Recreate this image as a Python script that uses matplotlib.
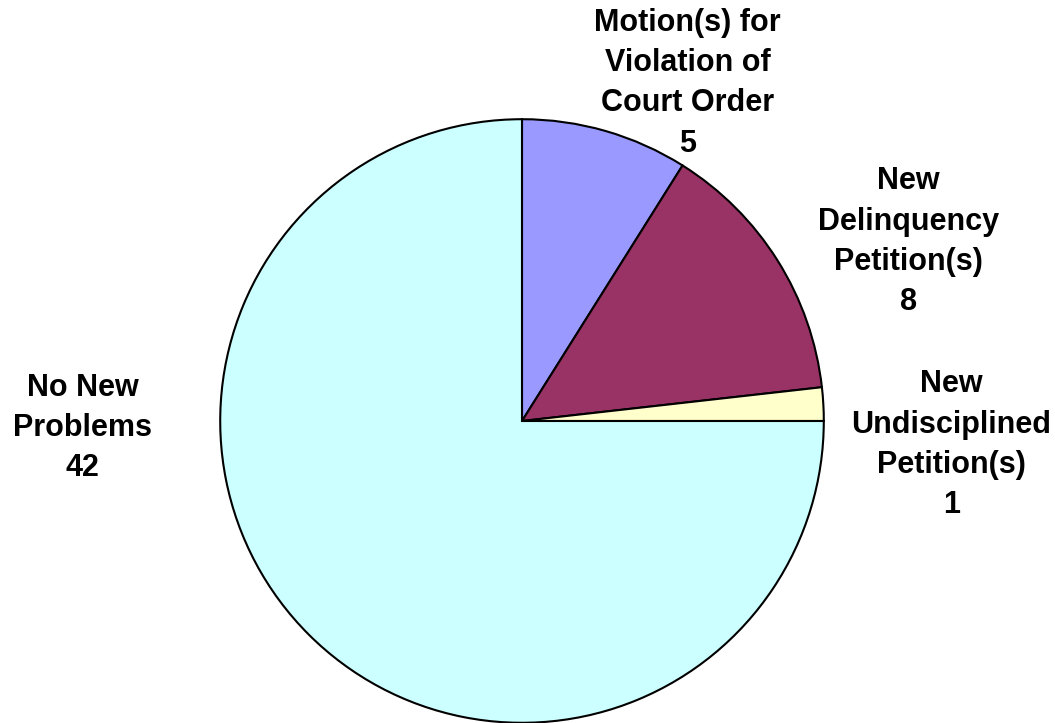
import matplotlib.pyplot as plt

# outcome categories, clockwise from 12 o'clock
labels = ["Motion(s) for\nViolation of\nCourt Order", "New\nDelinquency\nPetition(s)",
          "New\nUndisciplined\nPetition(s)", "No New\nProblems"]
counts = [5, 8, 1, 42]
colors = ["#9999FF", "#993366", "#FFFFCC", "#CCFFFF"]
# where each label sits, in units of the pie radius
label_pos = [(0.548, 1.119), (1.281, 0.594), (1.422, -0.079), (-1.455, -0.023)]

plt.rcParams['font.family'] = ['Liberation Sans', 'DejaVu Sans']

fig = plt.figure(figsize=(10.55, 7.23), dpi=100)
cx, cy, r = 522, 723 - 421, 303
ax = fig.add_axes([(cx - r) / 1055, (cy - r) / 723, 2 * r / 1055, 2 * r / 723])

ax.pie(counts, colors=colors, startangle=90, counterclock=False, radius=1,
       wedgeprops=dict(edgecolor="black", linewidth=1.5))
ax.set_xlim(-1.004, 1.004)
ax.set_ylim(-1.004, 1.004)
ax.set_aspect("equal")
ax.axis("off")

for lab, n, (x, y) in zip(labels, counts, label_pos):
    ax.text(x, y, lab + "\n" + str(n), ha="center", va="center", fontsize=22,
            fontweight="bold", linespacing=1.45, clip_on=False)

fig.savefig("out.png", dpi=100)
